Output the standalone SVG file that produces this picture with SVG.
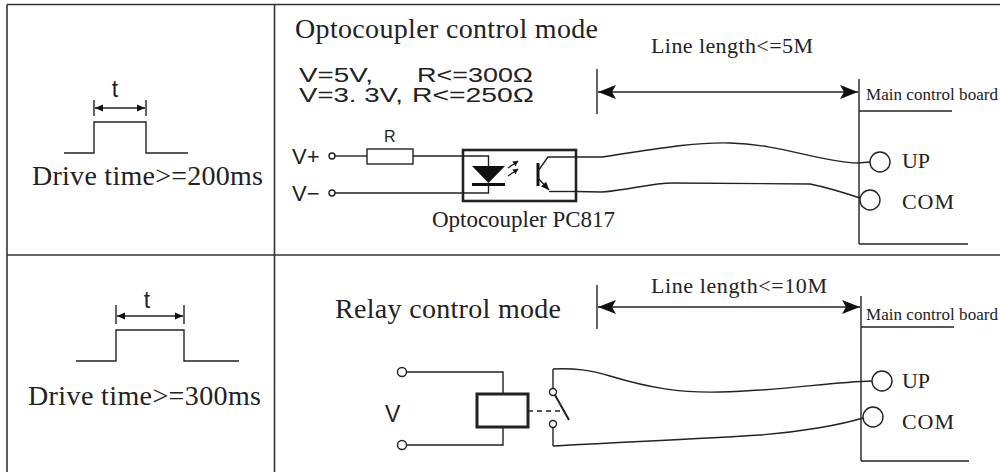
<svg xmlns="http://www.w3.org/2000/svg" width="1000" height="472" viewBox="0 0 1000 472">
<style>
.frame{stroke:#333;stroke-width:1.6;fill:none}
.ln{stroke:#222;stroke-width:1.4;fill:none}
.term{stroke:#222;stroke-width:1.4;fill:#fff}
.serif{font-family:"Liberation Serif","Times New Roman",serif;fill:#222}
.sans{font-family:"Liberation Sans",Arial,sans-serif;fill:#222}
</style>
<defs>
<marker id="bigArrow" markerUnits="userSpaceOnUse" markerWidth="20" markerHeight="14" refX="18" refY="7" orient="auto-start-reverse"><path d="M0,0 L18,7 L0,14 L4,7 Z" fill="#111"/></marker>
<marker id="smallArrow" markerUnits="userSpaceOnUse" markerWidth="9" markerHeight="8" refX="8" refY="4" orient="auto-start-reverse"><path d="M0,0.5 L8,4 L0,7.5 Z" fill="#111"/></marker>
<marker id="tinyArrow" markerUnits="userSpaceOnUse" markerWidth="6" markerHeight="6" refX="5" refY="3" orient="auto"><path d="M0,0 L5,3 L0,6 Z" fill="#111"/></marker>
</defs>

<g id="table">
<line class="frame" x1="7" y1="4.5" x2="1000" y2="4.5"/>
<line class="frame" x1="7" y1="4.5" x2="7" y2="472"/>
<line class="frame" x1="274.5" y1="4.5" x2="274.5" y2="472"/>
<line class="frame" x1="7" y1="255" x2="1000" y2="255"/>
</g>

<g id="pulse-200">
<path class="ln" d="M64,153 H94 V122 H146 V153 H188"/>
<line class="ln" x1="94" y1="100" x2="94" y2="116"/>
<line class="ln" x1="146" y1="100" x2="146" y2="116"/>
<line class="ln" x1="95" y1="108" x2="145" y2="108" marker-start="url(#smallArrow)" marker-end="url(#smallArrow)"/>
<text class="sans" x="115" y="97" font-size="23" text-anchor="middle">t</text>
<text class="serif" x="32" y="185" font-size="28" textLength="231" lengthAdjust="spacing">Drive time&gt;=200ms</text>
</g>

<g id="pulse-300">
<path class="ln" d="M76,361 H116 V330 H184 V361 H239"/>
<line class="ln" x1="116" y1="305" x2="116" y2="324"/>
<line class="ln" x1="184" y1="305" x2="184" y2="324"/>
<line class="ln" x1="117" y1="316" x2="183" y2="316" marker-start="url(#smallArrow)" marker-end="url(#smallArrow)"/>
<text class="sans" x="147" y="308" font-size="23" text-anchor="middle">t</text>
<text class="serif" x="28" y="405" font-size="28" textLength="233" lengthAdjust="spacing">Drive time&gt;=300ms</text>
</g>

<g id="optocoupler-mode">
<text class="serif" x="295" y="38" font-size="28" textLength="303" lengthAdjust="spacing">Optocoupler control mode</text>
<text class="sans" x="299" y="82" font-size="20" textLength="74" lengthAdjust="spacingAndGlyphs">V=5V,</text>
<text class="sans" x="417" y="82" font-size="20" textLength="116" lengthAdjust="spacingAndGlyphs">R&lt;=300Ω</text>
<text class="sans" x="299" y="102" font-size="20" textLength="104" lengthAdjust="spacingAndGlyphs">V=3. 3V,</text>
<text class="sans" x="412" y="102" font-size="20" textLength="122" lengthAdjust="spacingAndGlyphs">R&lt;=250Ω</text>
</g>

<g id="input-terminals-opto">
<text class="sans" x="292" y="164" font-size="22">V+</text>
<text class="sans" x="292" y="201" font-size="22">V−</text>
<circle class="term" cx="332" cy="156" r="3"/>
<circle class="term" cx="332" cy="193" r="3"/>
</g>

<g id="resistor">
<rect class="ln" x="367" y="149" width="46" height="15"/>
<text class="sans" x="384" y="142" font-size="16">R</text>
</g>

<g id="optocoupler-pc817">
<rect x="463" y="150" width="113" height="51" fill="none" stroke="#222" stroke-width="2.6"/>
<polygon points="472,166 505,166 488.5,183" fill="#111"/>
<line x1="472" y1="184.5" x2="505" y2="184.5" stroke="#111" stroke-width="3"/>
<line class="ln" x1="508" y1="168" x2="518" y2="161" marker-end="url(#tinyArrow)"/>
<line class="ln" x1="508" y1="176" x2="518" y2="169" marker-end="url(#tinyArrow)"/>
<line x1="538" y1="163" x2="538" y2="186" stroke="#111" stroke-width="3"/>
<path class="ln" d="M538,171 L548,157 H576"/>
<path class="ln" d="M538,178 L549,190" marker-end="url(#smallArrow)"/>
<path class="ln" d="M549,191.5 H576"/>
<text class="serif" x="432" y="227" font-size="23" textLength="183" lengthAdjust="spacing">Optocoupler PC817</text>
</g>

<g id="main-board-top">
<line class="ln" x1="859" y1="79" x2="859" y2="244"/>
<line class="ln" x1="859" y1="244" x2="968" y2="244"/>
<line class="ln" x1="859" y1="111" x2="952" y2="111"/>
<text class="serif" x="866" y="100" font-size="17" textLength="132" lengthAdjust="spacing">Main control board</text>
<circle class="term" cx="880" cy="162" r="10"/>
<circle class="term" cx="870" cy="200" r="10"/>
<text class="serif" x="902" y="168" font-size="22" textLength="28" lengthAdjust="spacing">UP</text>
<text class="serif" x="902" y="209" font-size="22" textLength="52" lengthAdjust="spacing">COM</text>
</g>

<g id="relay-mode">
<text class="serif" x="335" y="318" font-size="28" textLength="226" lengthAdjust="spacing">Relay control mode</text>
</g>

<g id="input-terminals-relay">
<circle class="term" cx="402" cy="372" r="4.5"/>
<circle class="term" cx="402" cy="445" r="4.5"/>
<text class="sans" x="385" y="422" font-size="23">V</text>
</g>

<g id="relay">
<rect x="477" y="394" width="51" height="33" fill="none" stroke="#222" stroke-width="3"/>
<line x1="528" y1="411" x2="565" y2="411" stroke="#222" stroke-width="1.4" stroke-dasharray="5,4"/>
<line class="ln" x1="553" y1="369" x2="553" y2="388.5"/>
<circle class="term" cx="553" cy="392" r="3.5"/>
<line x1="555" y1="395" x2="569" y2="420" stroke="#222" stroke-width="2"/>
<circle class="term" cx="553" cy="424" r="3.5"/>
<line class="ln" x1="553" y1="427.5" x2="553" y2="446"/>
</g>

<g id="main-board-bottom">
<line class="ln" x1="861" y1="296" x2="861" y2="461"/>
<line class="ln" x1="861" y1="461" x2="969" y2="461"/>
<line class="ln" x1="861" y1="327" x2="954" y2="327"/>
<text class="serif" x="866" y="320" font-size="17" textLength="132" lengthAdjust="spacing">Main control board</text>
<circle class="term" cx="882" cy="381" r="10"/>
<circle class="term" cx="873" cy="417" r="10"/>
<text class="serif" x="902" y="388" font-size="22" textLength="28" lengthAdjust="spacing">UP</text>
<text class="serif" x="902" y="429" font-size="22" textLength="52" lengthAdjust="spacing">COM</text>
</g>

<g id="connectors">
<path class="ln" d="M335,156 H367"/>
<path class="ln" d="M413,156 H488.5 V166"/>
<path class="ln" d="M335,193 H488.5 V186"/>
<path class="ln" d="M576,157 L602,157 C650,150 690,142 730,143 C780,144 820,162 858,163 L870,162"/>
<path class="ln" d="M576,191.5 L602,192 C630,190 650,183 673,183 L810,184 C830,188 845,193 860,198"/>
<path class="ln" d="M406.5,372 H503 V394"/>
<path class="ln" d="M503,427 V445 H406.5"/>
<path class="ln" d="M553,369 C575,368 590,370 610,376 C650,388 680,393 720,392 C780,391 830,382 872,381"/>
<path class="ln" d="M553,446 C600,443 700,439 760,435 C800,432 840,425 863,418"/>
</g>

<g id="length-5m">
<line class="ln" x1="597" y1="69" x2="597" y2="114"/>
<line class="ln" x1="598" y1="92" x2="858" y2="92" marker-start="url(#bigArrow)" marker-end="url(#bigArrow)"/>
<text class="serif" x="651" y="53" font-size="22" textLength="162" lengthAdjust="spacing">Line length&lt;=5M</text>
</g>

<g id="length-10m">
<line class="ln" x1="597" y1="285" x2="597" y2="329"/>
<line class="ln" x1="598" y1="307" x2="860" y2="307" marker-start="url(#bigArrow)" marker-end="url(#bigArrow)"/>
<text class="serif" x="651" y="293" font-size="22" textLength="176" lengthAdjust="spacing">Line length&lt;=10M</text>
</g>
</svg>
